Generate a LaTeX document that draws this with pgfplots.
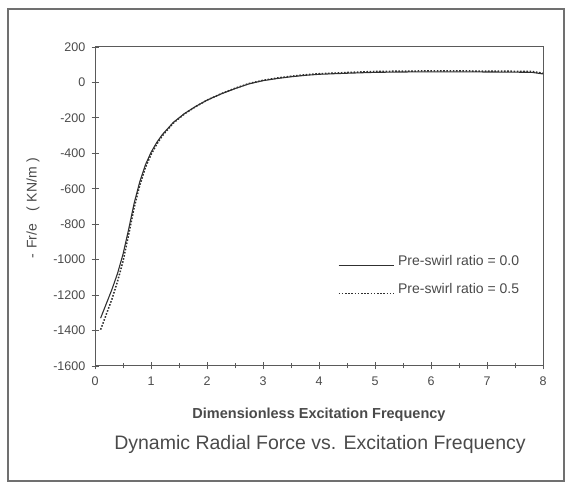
\documentclass[border=0pt]{standalone}
\usepackage{pgfplots}
\pgfplotsset{compat=1.18}
\usepackage{fontspec}
\setmainfont{Liberation Sans}
\definecolor{txt}{HTML}{4A4A4A}
\definecolor{axc}{HTML}{5A5A5A}
\definecolor{crv}{HTML}{303030}
\definecolor{frm}{HTML}{707070}
\begin{document}
\begin{tikzpicture}[x=1pt,y=1pt]
\path[use as bounding box] (0,0) rectangle (573,486);
\draw[frm, line width=1.3pt] (8,5) rectangle (564,477);
\begin{axis}[
  at={(95pt,120pt)}, anchor=south west,
  scale only axis, width=448pt, height=319pt,
  xmin=0, xmax=8, ymin=-1600, ymax=200,
  xtick={0,1,...,8}, minor xtick={0.5,1.5,...,7.5},
  ytick={-1600,-1400,...,200},
  xtick pos=left, ytick pos=left,
  tick align=center,
  major tick length=7pt, minor tick length=5pt,
  every tick/.style={axc, line width=0.8pt},
  axis line style={axc, line width=1pt},
  /pgf/number format/assume math mode=true,
  /pgf/number format/set thousands separator={},
  ticklabel style={font=\fontsize{12.5}{14}\selectfont, text=txt},
  yticklabel style={inner sep=0pt, anchor=east},
  xticklabel style={inner sep=0pt, anchor=north},
  yticklabel shift=6pt, xticklabel shift=7pt,
  legend style={at={(axis cs:4.34,-975)}, anchor=north west, draw=none, fill=none,
    inner sep=0pt, row sep=15pt, column sep=4pt,
    font=\fontsize{14}{16}\selectfont, text=txt,
    nodes={inner sep=0pt, text height=10pt, text depth=3pt}},
  legend cell align=left,
  legend image code/.code={\draw[#1, line width=0.9pt] (0pt,-4pt) -- (55pt,-4pt);},
]
\addplot[crv, line width=1.1pt] coordinates {
(0.10,-1330) (0.20,-1250) (0.30,-1170) (0.40,-1080) (0.50,-970) (0.60,-830)
(0.70,-680) (0.80,-560) (0.90,-465) (1.00,-395) (1.10,-340) (1.20,-295)
(1.30,-260) (1.40,-225) (1.60,-175) (1.80,-135) (2.00,-100) (2.25,-65)
(2.50,-35) (2.75,-8) (3.00,10) (3.25,22) (3.50,32) (3.75,40) (4.00,46)
(4.50,52) (5.00,57) (5.50,59) (6.00,60) (6.50,60) (7.00,59) (7.50,58)
(7.80,57) (8.00,48)};
\addlegendentry{Pre-swirl ratio = 0.0}
\addplot[crv, line width=1.5pt, dash pattern=on 1.6pt off 1.6pt] coordinates {
(0.10,-1395) (0.20,-1310) (0.30,-1225) (0.40,-1125) (0.50,-1010) (0.60,-860)
(0.70,-705) (0.80,-580) (0.90,-480) (1.00,-408) (1.10,-350) (1.20,-302)
(1.30,-265) (1.40,-229) (1.60,-177) (1.80,-136) (2.00,-100) (2.25,-64)
(2.50,-33) (2.75,-6) (3.00,12) (3.25,25) (3.50,35) (3.75,43) (4.00,49)
(4.50,56) (5.00,62) (5.50,64) (6.00,65) (6.50,65) (7.00,64) (7.50,63)
(7.80,62) (8.00,52)};
\addlegendentry{Pre-swirl ratio = 0.5}
\end{axis}
\node[text=txt, font=\bfseries\fontsize{14.5}{16}\selectfont] at (319,71) {Dimensionless Excitation Frequency};
\node[text=txt, font=\fontsize{19.5}{22}\selectfont] at (320,42) {Dynamic Radial Force vs. Excitation Frequency};
\node[text=txt, rotate=90, font=\fontsize{14}{16}\selectfont] at (33,278) {-\hspace{5pt}Fr/e\hspace{12pt}(\hspace{5pt}KN/m\hspace{5pt})};
\end{tikzpicture}
\end{document}
